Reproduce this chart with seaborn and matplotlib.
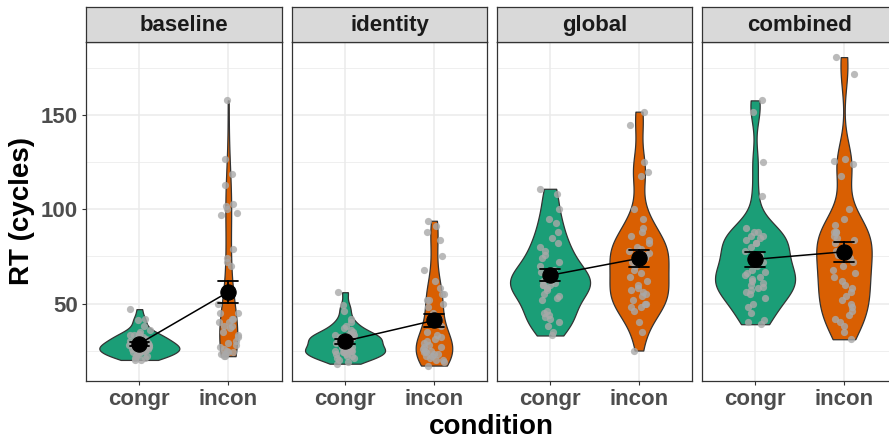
import numpy as np
import pandas as pd
import matplotlib
matplotlib.use("Agg")
import matplotlib.pyplot as plt
import seaborn as sns

# Reaction times (cycles) per prime type and condition
prime_types = ["baseline", "identity", "global", "combined"]
conditions = ["congr", "incon"]

baseline_congr = [47, 42, 41, 38, 36, 35, 34, 33, 33, 32, 32, 31, 31, 30, 30, 29, 29, 28, 28, 28,
                  27, 27, 27, 26, 26, 26, 25, 25, 25, 24, 24, 24, 23, 23, 22, 22, 21, 21, 20, 20]
baseline_incon = [158, 127, 119, 113, 100, 103, 102, 98, 97, 79, 74, 72, 70, 58, 55, 50, 45, 42, 40, 38,
                  45, 42, 40, 38, 37, 35, 33, 32, 30, 29, 28, 27, 26, 25, 24, 24, 23, 23, 22, 22]
identity_congr = [56, 49, 46, 42, 40, 38, 37, 36, 35, 34, 32, 33, 33, 32, 32, 31, 31, 30, 30, 30,
                  29, 27, 27, 26, 26, 26, 25, 25, 25, 24, 24, 23, 23, 22, 22, 21, 21, 20, 19, 18]
identity_incon = [94, 91, 88, 84, 75, 68, 62, 58, 55, 52, 52, 55, 50, 48, 45, 42, 38, 35, 33, 32,
                  31, 30, 29, 28, 27, 27, 26, 25, 25, 24, 24, 23, 23, 22, 22, 21, 20, 20, 19, 17]
global_congr = [111, 108, 100, 95, 93, 88, 85, 82, 80, 78, 76, 74, 72, 70, 68, 67, 66, 64, 62, 60,
                62, 63, 61, 60, 60, 58, 57, 55, 54, 53, 52, 46, 45, 44, 43, 42, 40, 38, 35, 33]
global_incon = [152, 145, 125, 120, 118, 100, 95, 90, 88, 86, 84, 82, 80, 79, 78, 77, 76, 75, 74, 72,
                70, 68, 66, 64, 62, 60, 58, 57, 56, 55, 54, 52, 50, 48, 50, 48, 46, 40, 35, 25]
combined_congr = [158, 152, 125, 107, 90, 88, 86, 85, 82, 88, 86, 84, 82, 80, 78, 76, 74, 72, 70, 68,
                  67, 66, 65, 64, 63, 62, 61, 60, 59, 58, 57, 56, 55, 53, 50, 48, 45, 41, 40, 39]
combined_incon = [181, 172, 127, 126, 124, 118, 100, 95, 92, 88, 88, 85, 88, 86, 84, 82, 80, 78, 76, 74,
                  72, 70, 68, 66, 64, 62, 60, 58, 56, 54, 52, 50, 48, 46, 44, 42, 40, 38, 35, 31]

series = {
    ("baseline", "congr"): baseline_congr, ("baseline", "incon"): baseline_incon,
    ("identity", "congr"): identity_congr, ("identity", "incon"): identity_incon,
    ("global", "congr"): global_congr, ("global", "incon"): global_incon,
    ("combined", "congr"): combined_congr, ("combined", "incon"): combined_incon,
}
rows = [(p, c, v) for (p, c), vals in series.items() for v in vals]
df = pd.DataFrame(rows, columns=["prime", "condition", "rt"])

palette = {"congr": "#1B9E77", "incon": "#D95F02"}


def nrd0(kde):
    """Silverman's rule of thumb as in R's bw.nrd0, expressed as a KDE factor."""
    x = kde.dataset[0]
    sd = x.std(ddof=1)
    q75, q25 = np.percentile(x, [75, 25])
    lo = min(sd, (q75 - q25) / 1.34)
    return 0.9 * lo * len(x) ** -0.2 / sd


sns.set_theme(style="white")
plt.rcParams["font.family"] = ["Liberation Sans", "DejaVu Sans"]
plt.rcParams["font.weight"] = "bold"

W, H = 889, 441
fig = plt.figure(figsize=(W / 100, H / 100), dpi=100)
np.random.seed(7)

lefts = [86, 291.7, 496.7, 701.7]
pw = 195.6
p_top, p_bot = 41.7, 381.0
s_top = 6.7

lo_v, hi_v = df.rt.min(), df.rt.max()
pad = (hi_v - lo_v) * 0.05
ylim = (lo_v - pad, hi_v + pad)

for i, (prime, left) in enumerate(zip(prime_types, lefts)):
    ax = fig.add_axes([left / W, (H - p_bot) / H, pw / W, (p_bot - p_top) / H])
    sub = df[df.prime == prime]
    sns.violinplot(data=sub, x="condition", y="rt", hue="condition", order=conditions,
                   hue_order=conditions, palette=palette, legend=False, inner=None, cut=0,
                   density_norm="area", common_norm=True, width=0.9, saturation=1,
                   linewidth=0.9, linecolor="#333333", bw_method=nrd0, gridsize=300, ax=ax)
    sns.stripplot(data=sub, x="condition", y="rt", order=conditions, color="#A9A9A9",
                  alpha=0.8, size=5.2, jitter=0.12, linewidth=0, zorder=3, ax=ax)
    sns.pointplot(data=sub, x="condition", y="rt", order=conditions, color="black",
                  errorbar="se", capsize=0.22, markersize=11, linewidth=1.1,
                  markerfacecolor="black", markeredgecolor="black", zorder=6,
                  err_kws={"linewidth": 1.3, "zorder": 5}, ax=ax)

    ax.set_xlim(-0.6, 1.6)
    ax.set_ylim(*ylim)
    ax.set_yticks([50, 100, 150])
    ax.set_yticks([25, 75, 125, 175], minor=True)
    ax.set_axisbelow(True)
    ax.grid(True, which="major", color="#EBEBEB", linewidth=1.1)
    ax.grid(True, which="minor", axis="y", color="#EBEBEB", linewidth=0.55)
    ax.set_xlabel("")
    ax.set_ylabel("")
    for sp in ax.spines.values():
        sp.set_color("#333333")
        sp.set_linewidth(0.9)
        sp.set_zorder(7)
    ax.tick_params(axis="x", which="major", length=3.0, width=0.8, color="#333333",
                   labelsize=16, labelcolor="#4D4D4D", pad=2.5, bottom=True)
    ax.tick_params(axis="y", which="minor", length=0, left=False)
    if i == 0:
        ax.tick_params(axis="y", which="major", length=3.0, width=0.8, color="#333333",
                       labelsize=16, labelcolor="#4D4D4D", pad=3, left=True)
    else:
        ax.tick_params(axis="y", which="major", length=0, left=False, labelleft=False)
    for lab in ax.get_xticklabels() + ax.get_yticklabels():
        lab.set_fontweight("bold")

    # facet strip
    sax = fig.add_axes([left / W, (H - p_top) / H, pw / W, (p_top - s_top) / H])
    sax.set_facecolor("#D9D9D9")
    sax.set_xticks([])
    sax.set_yticks([])
    for sp in sax.spines.values():
        sp.set_color("#333333")
        sp.set_linewidth(0.9)
    sax.text(0.5, 0.47, prime, ha="center", va="center", fontsize=16, fontweight="bold",
             color="#1A1A1A", transform=sax.transAxes)

fig.text(22 / W, 1 - ((p_top + p_bot) / 2) / H, "RT (cycles)", rotation=90, ha="center",
         va="center", fontsize=20, fontweight="bold", color="black")
fig.text(491 / W, 1 - 427 / H, "condition", ha="center", va="center", fontsize=20,
         fontweight="bold", color="black")

fig.savefig("out.png", dpi=100)
